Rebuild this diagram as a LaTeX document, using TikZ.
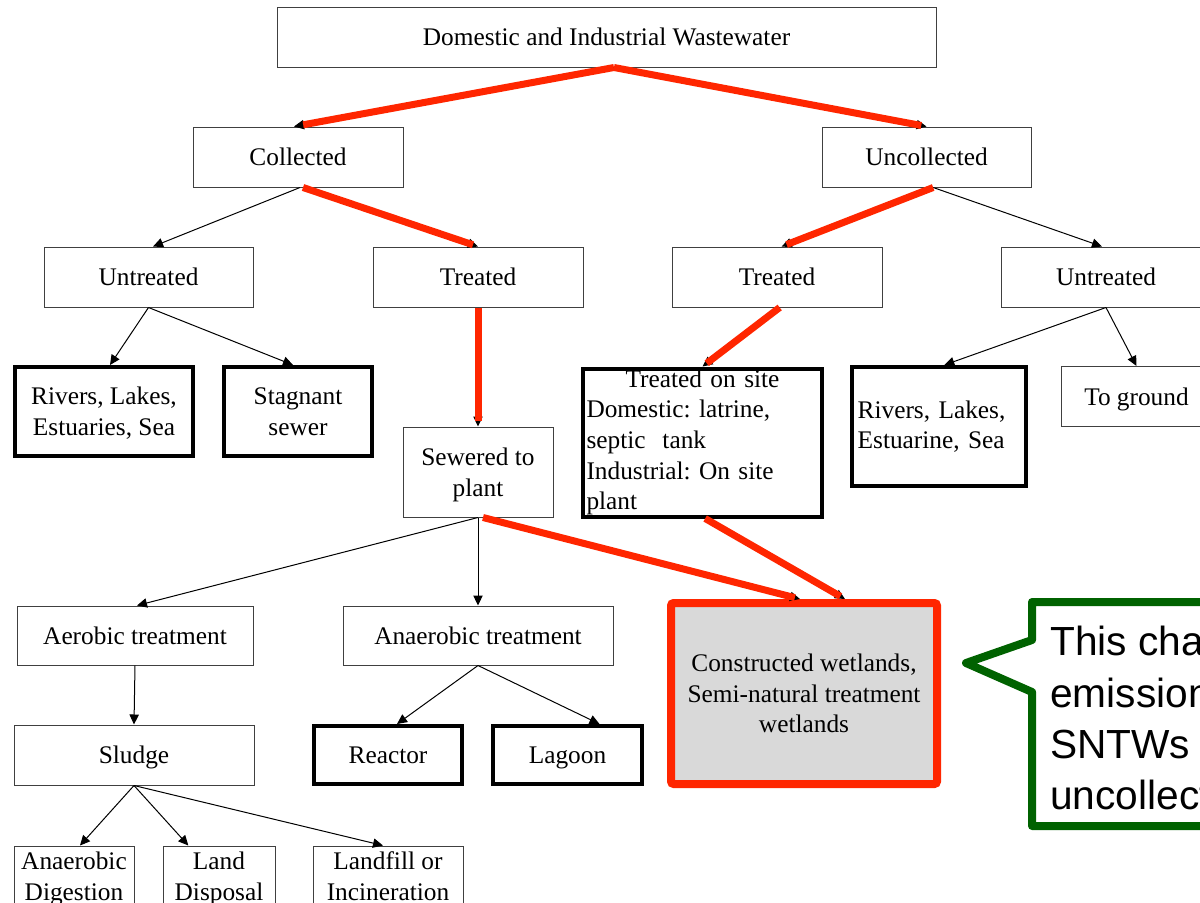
\documentclass[tikz,border=0pt]{standalone}
\usepackage{fontspec}
\setmainfont{Liberation Serif}
\newfontfamily\notefont{Liberation Sans}
\usetikzlibrary{arrows.meta}
\definecolor{flowred}{RGB}{255,38,0}
\definecolor{notegreen}{RGB}{0,98,0}
\definecolor{boxgray}{RGB}{64,64,64}
\definecolor{wetgray}{RGB}{217,217,217}
\frenchspacing

\begin{document}
\begin{tikzpicture}[x=0.75pt, y=-0.75pt, >={Triangle[length=7.5pt,width=7pt]},
  font=\fontsize{19}{23}\selectfont,
  sz/.style 2 args={minimum width=#1*0.75pt, minimum height=#2*0.75pt},
  box/.style={draw=boxgray, line width=0.75pt, align=center, inner sep=1pt, text depth=0pt},
  heavybox/.style={draw=black, line width=3pt, align=center, inner sep=1pt, text depth=0pt},
  flow/.style={->, line width=0.75pt},
  redflow/.style={draw=flowred, line width=5.25pt, shorten >=4pt}]

\useasboundingbox (0,0) rectangle (1200,903);
\clip (0,0) rectangle (1200,903);

% top levels
\node[box, sz={659}{60}] (ww) at (606.5,37) {Domestic and Industrial Wastewater};
\node[box, sz={210}{60}] (coll) at (298,157) {Collected};
\node[box, sz={209}{60}] (uncoll) at (926.5,157) {Uncollected};
\node[box, sz={209}{60}] (untrL) at (148.5,277) {Untreated};
\node[box, sz={210}{60}] (treatL) at (478,277) {Treated};
\node[box, sz={210}{60}] (treatR) at (777,277) {Treated};
\node[box, sz={209}{60}] (untrR) at (1106,277) {Untreated};

% discharge and on site
\node[heavybox, sz={178}{89}] (riversL) at (104,411.5) {Rivers, Lakes,\\Estuaries, Sea};
\node[heavybox, sz={148}{89}] (stag) at (298,411.5) {Stagnant\\sewer};
\node[box, sz={150}{90}] (sewered) at (478,472) {Sewered to\\plant};
\node[heavybox, sz={239}{148}, text width=174pt, align=left, inner xsep=2pt, inner ysep=0pt,
      text depth=] (onsite) at (702.5,442.5)
  {\centering Treated on site\par\raggedright Domestic: latrine,\\septic~~tank\\Industrial: On site\\plant};
\node[heavybox, sz={174}{119}, text width=122pt, align=left, inner xsep=4pt, text depth=] (riversR) at (939,426.5)
  {Rivers, Lakes,\\Estuarine, Sea};
\node[box, sz={150}{60}] (ground) at (1136.5,396.5) {To ground};

% treatment
\node[draw=flowred, fill=wetgray, line width=6pt, rounded corners=2pt, align=center, sz={266}{181},
      text depth=0pt] (cw) at (804,693.5)
  {Constructed wetlands,\\Semi-natural treatment\\wetlands};
\node[box, sz={236}{59}] (aerobic) at (135,635.5) {Aerobic treatment};
\node[box, sz={270}{59}] (anaerobic) at (478,635.5) {Anaerobic treatment};
\node[box, sz={240}{60}] (sludge) at (134,755) {Sludge};
\node[heavybox, sz={148}{58}] (reactor) at (388,755) {Reactor};
\node[heavybox, sz={149}{58}] (lagoon) at (567.5,755) {Lagoon};
\node[box, sz={120}{60}] (digest) at (74,876) {Anaerobic\\Digestion};
\node[box, sz={112}{60}] (land) at (219,876) {Land\\Disposal};
\node[box, sz={150}{60}] (landfill) at (388,876) {Landfill or\\Incineration};

% thin arrows
\draw[flow] ([xshift=1.5pt]coll.south) -- ([xshift=3.4pt]untrL.north);
\draw[flow] (untrL.south) -- ([xshift=4.5pt]riversL.north);
\draw[flow] (untrL.south) -- ([xshift=-3.75pt]stag.north);
\draw[flow] ([xshift=5pt]uncoll.south) -- ([xshift=-3pt]untrR.north);
\draw[flow] (untrR.south) -- ([xshift=4pt]riversR.north);
\draw[flow] (untrR.south) -- (ground.north);
\draw[flow] (sewered.south) -- ([xshift=1.5pt]aerobic.north);
\draw[flow] (sewered.south) -- (anaerobic.north);
\draw[flow] (aerobic.south) -- (sludge.north);
\draw[flow] (anaerobic.south) -- ([xshift=6.75pt]reactor.north);
\draw[flow] (anaerobic.south) -- ([xshift=24pt]lagoon.north);
\draw[flow] (sludge.south) -- ([xshift=4.5pt]digest.north);
\draw[flow] (sludge.south) -- ([xshift=-23pt]land.north);
\draw[flow] (sludge.south) -- ([xshift=-3.75pt]landfill.north);

% red path to wetlands
\draw[flow] ([xshift=5.6pt]ww.south) -- ([xshift=-3pt]coll.north);
\draw[redflow, shorten >=7pt] ([xshift=5.6pt]ww.south) -- ([xshift=-3pt]coll.north);
\draw[flow] ([xshift=5.6pt]ww.south) -- (uncoll.north);
\draw[redflow] ([xshift=5.6pt]ww.south) -- (uncoll.north);
\draw[flow] ([xshift=3.75pt]coll.south) -- (treatL.north);
\draw[redflow] ([xshift=3.75pt]coll.south) -- (treatL.north);
\draw[flow] ([xshift=5pt]uncoll.south) -- ([xshift=3.5pt]treatR.north);
\draw[redflow] ([xshift=5pt]uncoll.south) -- ([xshift=3.5pt]treatR.north);
\draw[flow] (treatL.south) -- (sewered.north);
\draw[redflow] (treatL.south) -- (sewered.north);
\draw[flow] ([xshift=2pt]treatR.south) -- (onsite.north);
\draw[redflow] ([xshift=2pt]treatR.south) -- (onsite.north);
\draw[flow] ([xshift=3.75pt]sewered.south) -- ([xshift=-3pt]cw.north);
\draw[redflow] ([xshift=3.75pt]sewered.south) -- ([xshift=-3pt]cw.north);
\draw[flow] ([xshift=2pt]onsite.south) -- ([xshift=30.75pt]cw.north);
\draw[redflow] ([xshift=2pt]onsite.south) -- ([xshift=30.75pt]cw.north);

% callout
\coordinate (tip) at (966,663);
\draw[notegreen, line width=6pt, line join=round]
  (1300,602) -- (1032,602) -- (1032,640) -- (tip) -- (1032,692) -- (1032,826) -- (1300,826);
\node[anchor=north west, align=left, inner sep=0pt, font=\notefont\fontsize{30.5}{38.5}\selectfont] (note) at (1050,626)
  {This chapter\\emissions\\SNTWs\\uncollected};

\end{tikzpicture}
\end{document}
